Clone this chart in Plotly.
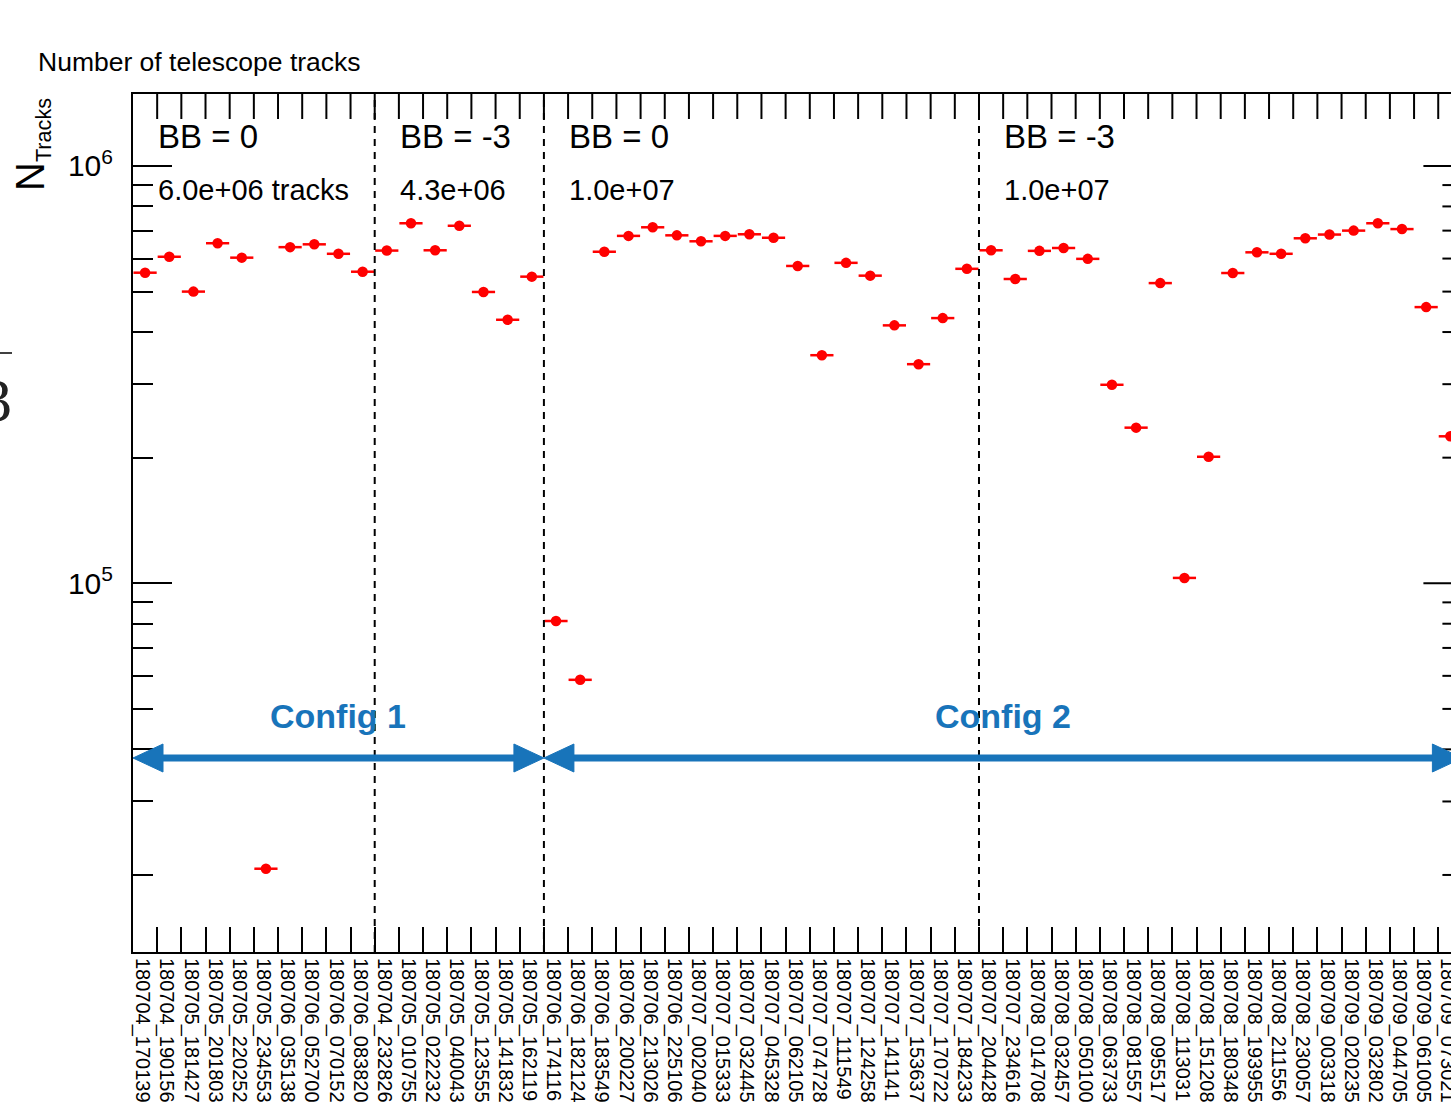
import plotly.graph_objects as go

# ---------------- data ----------------
run_labels = [
    "180704_170139", "180704_190156", "180705_181427", "180705_201803", "180705_220252",
    "180705_234553", "180706_035138", "180706_052700", "180706_070152", "180706_083820",
    "180704_232826", "180705_010755", "180705_022232", "180705_040043", "180705_123555",
    "180705_141832", "180705_162119",
    "180706_174116", "180706_182124", "180706_183549", "180706_200227", "180706_213026",
    "180706_225106", "180707_002040", "180707_015333", "180707_032445", "180707_045328",
    "180707_062105", "180707_074728", "180707_111549", "180707_124258", "180707_141141",
    "180707_153637", "180707_170722", "180707_184233",
    "180707_204428", "180707_234616", "180708_014708", "180708_032457", "180708_050100",
    "180708_063733", "180708_081557", "180708_095517", "180708_113031", "180708_151208",
    "180708_180348", "180708_193955", "180708_211556", "180708_230057", "180709_003318",
    "180709_020235", "180709_032802", "180709_044705", "180709_061005", "180709_073021",
]
n_tracks = [
    555000, 606000, 500000, 653000, 603000, 20700, 639000, 649000, 616000, 558000,
    627000, 729000, 628000, 719000, 499000, 428000, 543000,
    81200, 58700, 623000, 680000, 713000, 682000, 660000, 680000, 686000, 673000,
    576000, 352000, 586000, 546000, 415000, 335000, 432000, 567000,
    628000, 536000, 626000, 636000, 599000, 299000, 236000, 524000, 103000, 201000,
    554000, 621000, 616000, 671000, 685000, 700000, 729000, 706000, 459000, 225000,
]
section_sizes = [10, 7, 18, 20]
section_bb = ["BB = 0", "BB = -3", "BB = 0", "BB = -3"]
section_totals = ["6.0e+06 tracks", "4.3e+06", "1.0e+07", "1.0e+07"]
config_names = ["Config 1", "Config 2"]
config_section_span = [(0, 2), (2, 4)]
y_tick_vals = [1e5, 1e6]
y_tick_text = ["10<sup><span style='font-size:21px'>5</span></sup>",
               "10<sup><span style='font-size:21px'>6</span></sup>"]

# ---------------- layout geometry ----------------
FONT = "Liberation Sans, Arial, Helvetica, sans-serif"
BLUE = "#1874BA"
RED = "#ff0000"
W, H = 1451, 1115
PL, PT = 133, 94
PW, PH = W - PL, 858
PB = H - PT - PH
BIN_PX = 24.171
n = len(run_labels)
xs = list(range(n))
x_lo = -0.5
x_hi = x_lo + PW / BIN_PX
frame_right = n - 0.5
y_lo, y_hi = 4.1164, 6.1725

cum = [0]
for s in section_sizes:
    cum.append(cum[-1] + s)
bounds = [c - 0.5 for c in cum]


def xd2paper(xd):
    return (xd - x_lo) / (x_hi - x_lo)


def py2paper(py):
    return (PT + PH - py) / PH


def px2paper(px):
    return (px - PL) / PW


minor_y = [k * 10 ** e for e in (4, 5) for k in range(2, 10)
           if 10 ** y_lo < k * 10 ** e < 10 ** y_hi]

fig = go.Figure()
fig.add_trace(go.Scatter(
    x=xs, y=n_tracks, mode="markers",
    marker=dict(color=RED, size=10.5, line=dict(width=0)),
    error_x=dict(type="constant", value=0.48, thickness=2.5, width=0, color=RED),
    showlegend=False, hoverinfo="skip",
))

shapes = []
# dashed section separators
for b in bounds[1:-1]:
    shapes.append(dict(type="line", xref="x", yref="paper", x0=b, x1=b, y0=0, y1=1,
                       line=dict(color="black", width=2, dash="7px,6px"), layer="above"))
# top ticks at bin edges
top_len = 25 / PH
for i in range(n - 1):
    b = i + 0.5
    shapes.append(dict(type="line", xref="x", yref="paper", x0=b, x1=b, y0=1 - top_len, y1=1,
                       line=dict(color="black", width=2)))
# right-side y ticks (frame lies just beyond the visible area)
xr = xd2paper(frame_right)
for v in y_tick_vals:
    shapes.append(dict(type="line", xref="paper", yref="y", x0=xr - 39 / PW, x1=xr, y0=v, y1=v,
                       line=dict(color="black", width=2)))
for v in minor_y:
    shapes.append(dict(type="line", xref="paper", yref="y", x0=xr - 20 / PW, x1=xr, y0=v, y1=v,
                       line=dict(color="black", width=2)))
# stray fragment at far left edge
shapes.append(dict(type="line", xref="paper", yref="paper", x0=px2paper(-5), x1=px2paper(12),
                   y0=py2paper(353), y1=py2paper(353), line=dict(color="black", width=1.5)))

# double-headed config arrows drawn as shapes (paper coords, may run past the visible edge)
arrow_y = py2paper(758)
head_len = 30 / PW
head_half = 14 / PH
for s0, s1 in config_section_span:
    xa, xb = xd2paper(bounds[s0]), xd2paper(bounds[s1])
    shapes.append(dict(type="line", xref="paper", yref="paper", x0=xa + head_len * 0.8,
                       x1=xb - head_len * 0.8, y0=arrow_y, y1=arrow_y,
                       line=dict(color=BLUE, width=7)))
    left_tri = "M %f,%f L %f,%f L %f,%f Z" % (xa, arrow_y, xa + head_len, arrow_y + head_half,
                                               xa + head_len, arrow_y - head_half)
    right_tri = "M %f,%f L %f,%f L %f,%f Z" % (xb, arrow_y, xb - head_len, arrow_y + head_half,
                                                xb - head_len, arrow_y - head_half)
    for p in (left_tri, right_tri):
        shapes.append(dict(type="path", xref="paper", yref="paper", path=p,
                           fillcolor=BLUE, line=dict(color=BLUE, width=1)))

annotations = []
# title
annotations.append(dict(text="Number of telescope tracks", xref="paper", yref="paper",
                        x=px2paper(36), y=py2paper(62), xanchor="left", yanchor="middle",
                        showarrow=False, font=dict(family=FONT, size=26.5, color="black")))
# y-axis title
annotations.append(dict(text="<span style='font-size:40px'>N</span><sub>Tracks</sub>",
                        xref="paper", yref="paper", x=px2paper(32), y=py2paper(145),
                        xanchor="center", yanchor="middle", textangle=-90, showarrow=False,
                        font=dict(family=FONT, size=31, color="black")))
# stray serif glyph at left edge
annotations.append(dict(text="3", xref="paper", yref="paper", x=px2paper(14), y=py2paper(400),
                        xanchor="right", yanchor="middle", showarrow=False,
                        font=dict(family="Liberation Serif, serif", size=62, color="#222222")))
# section texts
for k in range(len(section_sizes)):
    x0 = bounds[k] + 1
    annotations.append(dict(text=section_bb[k], xref="x", yref="paper", x=x0, y=py2paper(136),
                            xanchor="left", yanchor="middle", showarrow=False, borderpad=0,
                            font=dict(family=FONT, size=33, color="black")))
    annotations.append(dict(text=section_totals[k], xref="x", yref="paper", x=x0, y=py2paper(190),
                            xanchor="left", yanchor="middle", showarrow=False, borderpad=0,
                            font=dict(family=FONT, size=29, color="black")))
# config labels
for name, (s0, s1) in zip(config_names, config_section_span):
    a, b = bounds[s0], bounds[s1]
    annotations.append(dict(text="<b>%s</b>" % name, xref="x", yref="paper", x=(a + b) / 2,
                            y=py2paper(716), xanchor="center", yanchor="middle", showarrow=False,
                            font=dict(family=FONT, size=34, color=BLUE)))

fig.update_layout(
    width=W, height=H,
    margin=dict(l=PL, r=0, t=PT, b=PB, pad=0),
    paper_bgcolor="white", plot_bgcolor="white",
    font=dict(family=FONT, color="black"),
    shapes=shapes, annotations=annotations,
    showlegend=False,
)
fig.update_xaxes(
    range=[x_lo, x_hi], showgrid=False, zeroline=False,
    showline=True, linecolor="black", linewidth=2, mirror=True,
    tickmode="array", tickvals=[v - 0.1 for v in xs], ticktext=run_labels,
    ticks="", tickangle=90, tickfont=dict(family=FONT, size=20, color="black"),
    ticklabeloverflow="allow",
    minor=dict(tickmode="array", tickvals=[i + 0.5 for i in range(n - 1)], ticks="inside",
               ticklen=25, tickwidth=2, tickcolor="black", showgrid=False),
    automargin=False,
)
fig.update_yaxes(
    type="log", range=[y_lo, y_hi], showgrid=False, zeroline=False,
    showline=True, linecolor="black", linewidth=2, mirror=False,
    tickmode="array", tickvals=y_tick_vals, ticktext=y_tick_text,
    ticks="inside", ticklen=39, tickwidth=2, tickcolor="black",
    tickfont=dict(family=FONT, size=30, color="black"), ticklabelstandoff=12,
    minor=dict(tickmode="array", tickvals=minor_y, ticks="inside", ticklen=20, tickwidth=2,
               tickcolor="black", showgrid=False),
    automargin=False,
)

fig.write_html("out.html")
